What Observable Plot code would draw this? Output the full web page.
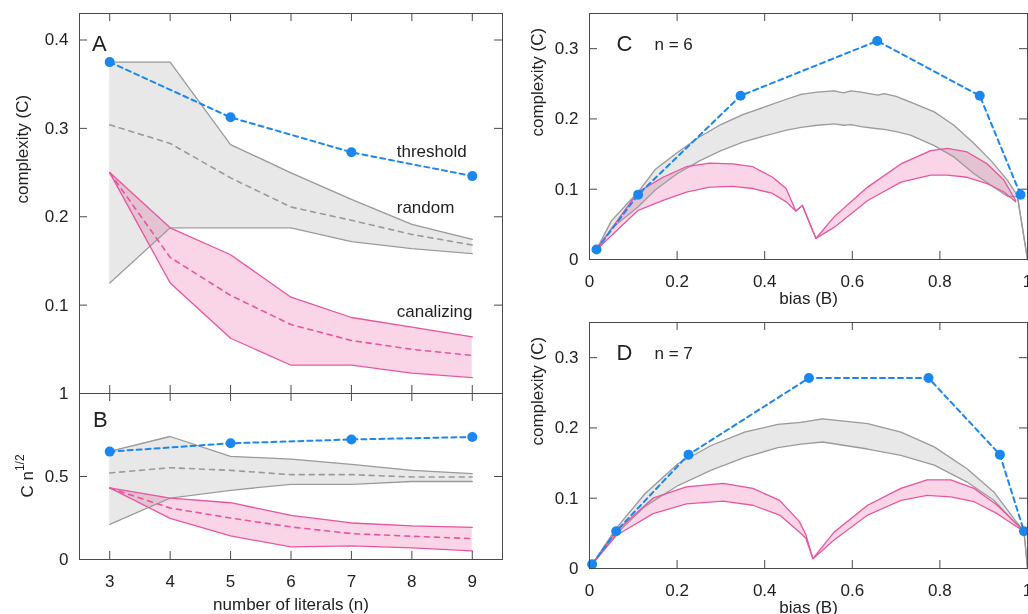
<!DOCTYPE html>
<html><head><meta charset="utf-8">
<script src="https://cdn.jsdelivr.net/npm/d3@7"></script>
<script src="https://cdn.jsdelivr.net/npm/@observablehq/plot@0.6"></script>
<style>
body{margin:0;background:#fff;}
#chart{position:relative;width:1028px;height:614px;overflow:hidden;background:#fff;}
#chart svg{position:absolute;overflow:visible;}
</style></head><body><div id="chart"></div>
<script>
// ---------- Panel A / B data (x = number of literals n) ----------
const nLiterals = [3, 4, 5, 6, 7, 8, 9];
const randomHiA   = [0.375, 0.375, 0.2816, 0.2497, 0.2196, 0.1914, 0.1744];
const randomLoA   = [0.125, 0.1875, 0.1875, 0.1875, 0.1718, 0.164, 0.1583];
const randomMeanA = [0.304, 0.283, 0.244, 0.211, 0.196, 0.180, 0.168];
const canalHiA    = [0.25, 0.1875, 0.157, 0.109, 0.086, 0.075, 0.064];
const canalLoA    = [0.25, 0.125, 0.0625, 0.032, 0.032, 0.023, 0.018];
const canalMeanA  = [0.25, 0.154, 0.111, 0.078, 0.060, 0.050, 0.043];
const thresholdN  = [3, 5, 7, 9];
const thresholdA  = [0.375, 0.3125, 0.273, 0.246];

const randomHiB   = [0.651, 0.741, 0.621, 0.605, 0.573, 0.537, 0.517];
const randomLoB   = [0.212, 0.370, 0.417, 0.453, 0.453, 0.470, 0.470];
const randomMeanB = [0.521, 0.553, 0.537, 0.511, 0.511, 0.497, 0.497];
const canalHiB    = [0.431, 0.370, 0.342, 0.266, 0.220, 0.202, 0.194];
const canalLoB    = [0.431, 0.248, 0.142, 0.076, 0.082, 0.070, 0.052];
const canalMeanB  = [0.431, 0.310, 0.250, 0.196, 0.156, 0.140, 0.126];
const thresholdB  = [0.650, 0.700, 0.723, 0.738];

const seriesLabels = ["threshold", "random", "canalizing"];
const seriesLabelN = [7.75, 7.75, 7.75];
const seriesLabelC = [0.268, 0.204, 0.087];

// ---------- Panel C (n = 6), x = bias ----------
const cGrayBias = [0.016, 0.05, 0.111, 0.15, 0.2, 0.25, 0.3, 0.35, 0.4, 0.45, 0.483, 0.52, 0.559, 0.58, 0.597, 0.62, 0.658, 0.673, 0.7, 0.733, 0.787, 0.832, 0.878, 0.916, 0.954, 0.977, 1.0];
const cGrayHi   = [0.014, 0.055, 0.096, 0.128, 0.152, 0.174, 0.192, 0.206, 0.217, 0.228, 0.235, 0.238, 0.240, 0.237, 0.240, 0.238, 0.234, 0.236, 0.232, 0.224, 0.210, 0.191, 0.165, 0.141, 0.113, 0.091, 0.0];
const cGrayLo   = [0.014, 0.044, 0.075, 0.099, 0.122, 0.140, 0.155, 0.167, 0.176, 0.184, 0.188, 0.191, 0.193, 0.191, 0.192, 0.189, 0.186, 0.185, 0.182, 0.177, 0.162, 0.146, 0.122, 0.106, 0.090, 0.089, 0.0];
const cPinkBias = [0.016, 0.07, 0.111, 0.168, 0.221, 0.274, 0.327, 0.373, 0.418, 0.449, 0.471, 0.486, 0.517, 0.559, 0.635, 0.711, 0.779, 0.817, 0.862, 0.908, 0.946, 0.973];
const cPinkHi   = [0.014, 0.061, 0.096, 0.117, 0.132, 0.137, 0.136, 0.132, 0.117, 0.101, 0.069, 0.077, 0.030, 0.061, 0.103, 0.136, 0.155, 0.158, 0.153, 0.136, 0.113, 0.084];
const cPinkLo   = [0.014, 0.046, 0.070, 0.084, 0.096, 0.103, 0.104, 0.101, 0.094, 0.082, 0.069, 0.077, 0.030, 0.046, 0.084, 0.110, 0.120, 0.120, 0.117, 0.108, 0.096, 0.082];
const cThrBias  = [0.016, 0.111, 0.345, 0.657, 0.891, 0.984];
const cThrC     = [0.0142, 0.0923, 0.233, 0.311, 0.233, 0.0923];

// ---------- Panel D (n = 7) ----------
const dGrayBias = [0.006, 0.061, 0.126, 0.202, 0.278, 0.354, 0.43, 0.483, 0.532, 0.635, 0.711, 0.787, 0.862, 0.923, 0.969, 0.992, 1.0];
const dGrayHi   = [0.006, 0.057, 0.106, 0.149, 0.175, 0.194, 0.205, 0.208, 0.213, 0.206, 0.194, 0.173, 0.142, 0.109, 0.071, 0.053, 0.0];
const dGrayLo   = [0.006, 0.049, 0.088, 0.118, 0.140, 0.158, 0.172, 0.177, 0.180, 0.170, 0.161, 0.147, 0.123, 0.097, 0.067, 0.053, 0.0];
const dPinkBias = [0.006, 0.061, 0.145, 0.221, 0.305, 0.373, 0.434, 0.479, 0.494, 0.51, 0.559, 0.635, 0.711, 0.771, 0.825, 0.878, 0.931, 0.969, 0.992];
const dPinkHi   = [0.006, 0.053, 0.100, 0.116, 0.121, 0.114, 0.097, 0.067, 0.048, 0.014, 0.052, 0.090, 0.114, 0.126, 0.126, 0.114, 0.090, 0.067, 0.053];
const dPinkLo   = [0.006, 0.047, 0.078, 0.092, 0.096, 0.090, 0.076, 0.052, 0.043, 0.014, 0.041, 0.076, 0.097, 0.104, 0.102, 0.095, 0.078, 0.062, 0.053];
const dThrBias  = [0.006, 0.061, 0.226, 0.501, 0.774, 0.937, 0.992];
const dThrC     = [0.006, 0.053, 0.162, 0.271, 0.271, 0.162, 0.053];

// ---------- ticks ----------
const yTicksA = [0.1, 0.2, 0.3, 0.4];
const yTicksB = [0, 0.5, 1];
const biasTicks = [0, 0.2, 0.4, 0.6, 0.8, 1];
const cTicks = [0, 0.1, 0.2, 0.3];
const fmt = d3.format("~g");

// ---------- styles ----------
const FONT = '"Liberation Sans", Arial, Helvetica, sans-serif';
const BLUE = "#1b87ee", PINK = "#e8559f", PINKFILL = "#fad5e7", GRAY = "#9a9a9a", GRAYFILL = "#e8e8e8", AX = "#4a4a4a";
const baseStyle = {background: "transparent", overflow: "visible", fontFamily: FONT, fontSize: "17px", color: "#222"};
const TICK = 8;

const zipN = nLiterals.map((n, i) => ({n, rHiA: randomHiA[i], rLoA: randomLoA[i], rMA: randomMeanA[i], cHiA: canalHiA[i], cLoA: canalLoA[i], cMA: canalMeanA[i],
  rHiB: randomHiB[i], rLoB: randomLoB[i], rMB: randomMeanB[i], cHiB: canalHiB[i], cLoB: canalLoB[i], cMB: canalMeanB[i]}));
const thrRows = thresholdN.map((n, i) => ({n, a: thresholdA[i], b: thresholdB[i]}));
const labelRows = seriesLabels.map((t, i) => ({t, n: seriesLabelN[i], c: seriesLabelC[i]}));

// inward ticks on all four sides + labels on left/bottom
function frameTicks(xTicks, yTicks, fw, fh, xLabels) {
  return [
    Plot.ruleX(xTicks, {x: d => d, insetBottom: fh - TICK, stroke: AX}),
    Plot.ruleX(xTicks, {x: d => d, insetTop: fh - TICK, stroke: AX}),
    Plot.ruleY(yTicks, {y: d => d, insetRight: fw - TICK, stroke: AX}),
    Plot.ruleY(yTicks, {y: d => d, insetLeft: fw - TICK, stroke: AX}),
    xLabels ? Plot.axisX({anchor: "bottom", ticks: xTicks, tickSize: 0, tickPadding: 15, tickFormat: fmt, label: null, fill: "#222"}) : null,
    Plot.axisY({anchor: "left", ticks: yTicks, tickSize: 0, tickPadding: 11, tickFormat: fmt, label: null, fill: "#222"}),
    Plot.frame({stroke: AX})
  ];
}

const chart = document.getElementById("chart");
function place(svg, left, top) { svg.style.left = left + "px"; svg.style.top = top + "px"; chart.append(svg); }

// ---------- Panel A ----------
const plotA = Plot.plot({
  width: 510, height: 393, marginTop: 13, marginLeft: 79, marginRight: 8, marginBottom: 0,
  x: {domain: [2.5, 9.5], axis: null}, y: {domain: [0, 0.43]}, style: baseStyle,
  marks: [
    Plot.areaY(zipN, {x: "n", y1: "rLoA", y2: "rHiA", fill: GRAYFILL, mixBlendMode: "multiply"}),
    Plot.areaY(zipN, {x: "n", y1: "cLoA", y2: "cHiA", fill: PINKFILL, mixBlendMode: "multiply"}),
    Plot.lineY(zipN, {x: "n", y: "rHiA", stroke: GRAY, strokeWidth: 1.3}),
    Plot.lineY(zipN, {x: "n", y: "rLoA", stroke: GRAY, strokeWidth: 1.3}),
    Plot.lineY(zipN, {x: "n", y: "rMA", stroke: GRAY, strokeWidth: 1.6, strokeDasharray: "5,5"}),
    Plot.lineY(zipN, {x: "n", y: "cHiA", stroke: PINK, strokeWidth: 1.3}),
    Plot.lineY(zipN, {x: "n", y: "cLoA", stroke: PINK, strokeWidth: 1.3}),
    Plot.lineY(zipN, {x: "n", y: "cMA", stroke: PINK, strokeWidth: 1.6, strokeDasharray: "5,5"}),
    Plot.lineY(thrRows, {x: "n", y: "a", stroke: BLUE, strokeWidth: 2, strokeDasharray: "5,4"}),
    Plot.dot(thrRows, {x: "n", y: "a", r: 5, fill: BLUE}),
    Plot.text(labelRows, {x: "n", y: "c", text: "t", textAnchor: "start", lineAnchor: "bottom", fill: "#222"}),
    Plot.text(["A"], {frameAnchor: "top-left", dx: 12.5, dy: 37, textAnchor: "start", lineAnchor: "bottom", fontSize: 22}),
    Plot.text(["complexity (C)"], {frameAnchor: "left", rotate: -90, dx: -57}),
    ...frameTicks(nLiterals, yTicksA, 423, 380, false)
  ]
});
place(plotA, 0, 0);

// ---------- Panel B ----------
const plotB = Plot.plot({
  width: 510, height: 221, marginTop: 0, marginLeft: 79, marginRight: 8, marginBottom: 55,
  x: {domain: [2.5, 9.5]}, y: {domain: [0, 1]}, style: baseStyle,
  marks: [
    Plot.areaY(zipN, {x: "n", y1: "rLoB", y2: "rHiB", fill: GRAYFILL, mixBlendMode: "multiply"}),
    Plot.areaY(zipN, {x: "n", y1: "cLoB", y2: "cHiB", fill: PINKFILL, mixBlendMode: "multiply"}),
    Plot.lineY(zipN, {x: "n", y: "rHiB", stroke: GRAY, strokeWidth: 1.3}),
    Plot.lineY(zipN, {x: "n", y: "rLoB", stroke: GRAY, strokeWidth: 1.3}),
    Plot.lineY(zipN, {x: "n", y: "rMB", stroke: GRAY, strokeWidth: 1.6, strokeDasharray: "5,5"}),
    Plot.lineY(zipN, {x: "n", y: "cHiB", stroke: PINK, strokeWidth: 1.3}),
    Plot.lineY(zipN, {x: "n", y: "cLoB", stroke: PINK, strokeWidth: 1.3}),
    Plot.lineY(zipN, {x: "n", y: "cMB", stroke: PINK, strokeWidth: 1.6, strokeDasharray: "5,5"}),
    Plot.lineY(thrRows, {x: "n", y: "b", stroke: BLUE, strokeWidth: 2, strokeDasharray: "5,4"}),
    Plot.dot(thrRows, {x: "n", y: "b", r: 5, fill: BLUE}),
    Plot.text(["B"], {frameAnchor: "top-left", dx: 13.5, dy: 33.7, textAnchor: "start", lineAnchor: "bottom", fontSize: 22}),
    Plot.text(["number of literals (n)"], {frameAnchor: "bottom", dy: 50.5, lineAnchor: "bottom"}),
    ...frameTicks(nLiterals, yTicksB, 423, 166, true)
  ]
});
place(plotB, 0, 393);
// y label with superscript
d3.select(plotB).append("text")
  .attr("transform", "translate(27.6," + (221 - 55) / 2 + ") rotate(-90)")
  .attr("text-anchor", "middle").attr("dy", "0.32em")
  .attr("font-family", FONT).attr("font-size", 17).attr("fill", "#222")
  .call(t => { t.append("tspan").text("C n"); t.append("tspan").attr("font-size", 12).attr("dy", -9).text("1/2"); });

// ---------- Panels C and D ----------
function biasPanel(grayBias, grayHi, grayLo, pinkBias, pinkHi, pinkLo, thrBias, thrC, letter, nLabel) {
  const gray = grayBias.map((b, i) => ({b, hi: grayHi[i], lo: grayLo[i]}));
  const pink = pinkBias.map((b, i) => ({b, hi: pinkHi[i], lo: pinkLo[i]}));
  const thr = thrBias.map((b, i) => ({b, c: thrC[i]}));
  return Plot.plot({
    width: 518, height: 305, marginTop: 13, marginLeft: 79, marginRight: 1, marginBottom: 46,
    x: {domain: [0, 1]}, y: {domain: [0, 0.35]}, style: baseStyle,
    marks: [
      Plot.areaY(gray, {x: "b", y1: "lo", y2: "hi", fill: GRAYFILL, mixBlendMode: "multiply"}),
      Plot.areaY(pink, {x: "b", y1: "lo", y2: "hi", fill: PINKFILL, mixBlendMode: "multiply"}),
      Plot.lineY(gray, {x: "b", y: "hi", stroke: GRAY, strokeWidth: 1.3}),
      Plot.lineY(gray, {x: "b", y: "lo", stroke: GRAY, strokeWidth: 1.3}),
      Plot.lineY(pink, {x: "b", y: "hi", stroke: PINK, strokeWidth: 1.3}),
      Plot.lineY(pink, {x: "b", y: "lo", stroke: PINK, strokeWidth: 1.3}),
      Plot.lineY(thr, {x: "b", y: "c", stroke: BLUE, strokeWidth: 2, strokeDasharray: "5,4"}),
      Plot.dot(thr, {x: "b", y: "c", r: 5, fill: BLUE}),
      Plot.text([letter], {frameAnchor: "top-left", dx: 27, dy: 37, textAnchor: "start", lineAnchor: "bottom", fontSize: 22}),
      Plot.text([nLabel], {frameAnchor: "top-left", dx: 65, dy: 36, textAnchor: "start", lineAnchor: "bottom"}),
      Plot.text(["complexity (C)"], {frameAnchor: "left", rotate: -90, dx: -51.5}),
      Plot.text(["bias (B)"], {frameAnchor: "bottom", dy: 44.7, lineAnchor: "bottom"}),
      ...frameTicks(biasTicks, cTicks, 438, 246, true)
    ]
  });
}
place(biasPanel(cGrayBias, cGrayHi, cGrayLo, cPinkBias, cPinkHi, cPinkLo, cThrBias, cThrC, "C", "n = 6"), 510, 0);
place(biasPanel(dGrayBias, dGrayHi, dGrayLo, dPinkBias, dPinkHi, dPinkLo, dThrBias, dThrC, "D", "n = 7"), 510, 309);
</script></body></html>
